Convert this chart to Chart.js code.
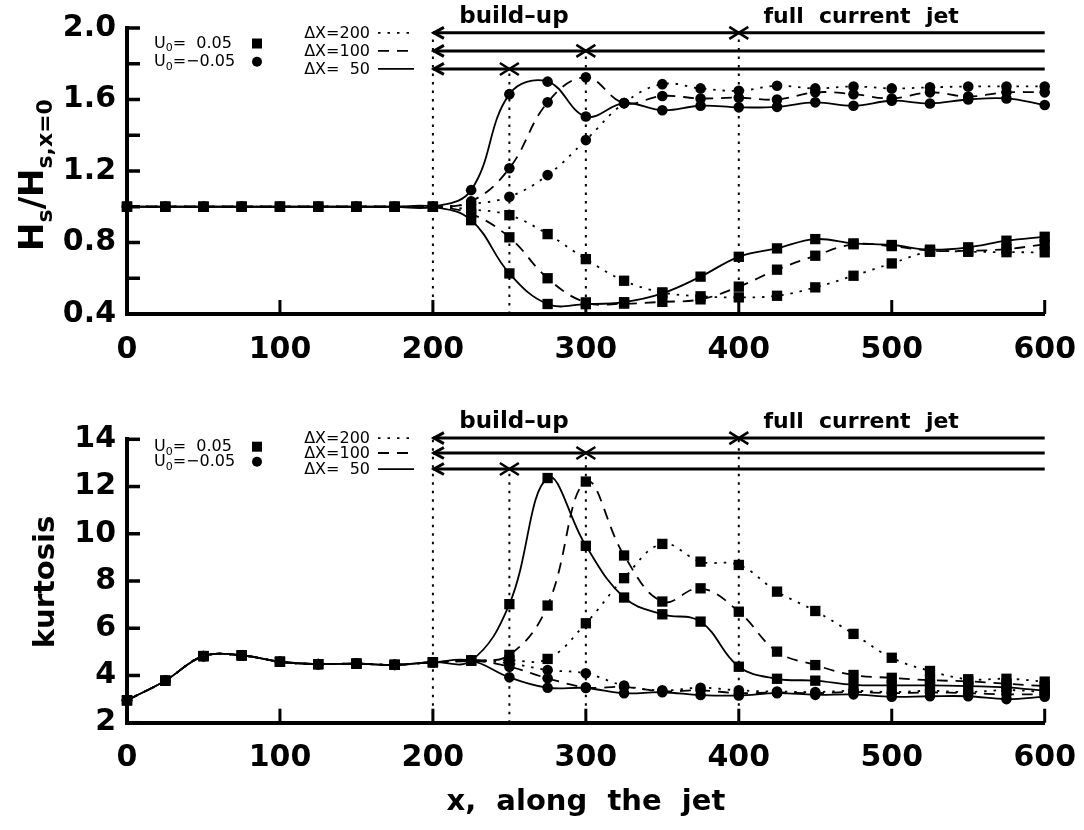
<!DOCTYPE html>
<html><head><meta charset="utf-8">
<script src="https://cdn.jsdelivr.net/npm/chart.js@4.4.0/dist/chart.umd.min.js"></script>
<style>
html,body{margin:0;padding:0;background:#fff;}
#wrap{position:relative;width:1084px;height:830px;overflow:hidden;background:#fff;}
.box{position:absolute;left:0;width:1084px;}
</style></head><body>
<div id="wrap">
<div class="box" style="top:0;height:400px"><canvas id="c1"></canvas></div>
<div class="box" style="top:400px;height:430px"><canvas id="c2"></canvas></div>
</div>
<script>
// ---------------- DATA ----------------
const xAlongJet = [0,25,50,75,100,125,150,175,200,225,250,275,300,325,350,375,400,425,450,475,500,525,550,575,600];

// Panel 1: Hs / Hs,x=0   (squares: U0=0.05, circles: U0=-0.05)
const hsSquare50  = [1.00,1.00,1.00,1.00,1.00,1.00,1.00,1.00,1.00,0.925,0.627,0.456,0.455,0.466,0.515,0.609,0.720,0.767,0.819,0.795,0.786,0.760,0.773,0.810,0.832];
const hsSquare100 = [1.00,1.00,1.00,1.00,1.00,1.00,1.00,1.00,1.00,0.960,0.829,0.600,0.465,0.458,0.468,0.482,0.553,0.648,0.726,0.790,0.780,0.754,0.754,0.763,0.790];
const hsSquare200 = [1.00,1.00,1.00,1.00,1.00,1.00,1.00,1.00,1.00,0.985,0.953,0.847,0.707,0.586,0.521,0.499,0.493,0.502,0.549,0.614,0.683,0.748,0.748,0.746,0.745];
const hsCircle50  = [1.00,1.00,1.00,1.00,1.00,1.00,1.00,1.00,1.00,1.093,1.630,1.700,1.505,1.580,1.540,1.565,1.556,1.559,1.584,1.565,1.593,1.578,1.600,1.606,1.569];
const hsCircle100 = [1.00,1.00,1.00,1.00,1.00,1.00,1.00,1.00,1.00,1.030,1.215,1.584,1.724,1.580,1.620,1.606,1.610,1.600,1.640,1.630,1.606,1.640,1.617,1.640,1.640];
const hsCircle200 = [1.00,1.00,1.00,1.00,1.00,1.00,1.00,1.00,1.00,1.015,1.056,1.177,1.373,1.580,1.686,1.662,1.649,1.677,1.662,1.673,1.662,1.668,1.673,1.673,1.673];

// Panel 2: kurtosis
const kuSquare50  = [2.95,3.78,4.82,4.85,4.58,4.48,4.50,4.45,4.56,4.63,7.02,12.36,9.49,7.30,6.59,6.28,4.37,3.86,3.78,3.60,3.58,3.58,3.55,3.50,3.35];
const kuSquare100 = [2.95,3.78,4.82,4.85,4.58,4.48,4.50,4.45,4.56,4.63,4.87,6.96,12.21,9.08,7.13,7.69,6.70,5.01,4.44,4.02,3.90,3.80,3.75,3.65,3.55];
const kuSquare200 = [2.95,3.78,4.82,4.85,4.58,4.48,4.50,4.45,4.56,4.63,4.64,4.70,6.21,8.12,9.57,8.82,8.68,7.55,6.73,5.76,4.75,4.19,3.84,3.86,3.74];
const kuCircle50  = [2.95,3.78,4.82,4.85,4.58,4.48,4.50,4.45,4.56,4.63,3.92,3.48,3.47,3.25,3.29,3.17,3.15,3.25,3.18,3.20,3.10,3.12,3.12,3.00,3.10];
const kuCircle100 = [2.95,3.78,4.82,4.85,4.58,4.48,4.50,4.45,4.56,4.63,4.37,3.88,3.50,3.51,3.33,3.37,3.25,3.28,3.25,3.30,3.25,3.28,3.25,3.20,3.20];
const kuCircle200 = [2.95,3.78,4.82,4.85,4.58,4.48,4.50,4.45,4.56,4.63,4.51,4.23,4.09,3.57,3.37,3.48,3.37,3.32,3.30,3.35,3.30,3.35,3.30,3.38,3.30];

// Ticks
const xTicks = [0,100,200,300,400,500,600];
const xTickLabels = ['0','100','200','300','400','500','600'];
const hsYTicks = [0.4,0.6,0.8,1.0,1.2,1.4,1.6,1.8,2.0];
const hsYTickLabels = ['0.4','','0.8','','1.2','','1.6','','2.0'];
const kuYTicks = [2,4,6,8,10,12,14];
const kuYTickLabels = ['2','4','6','8','10','12','14'];

// Phase annotations: [ΔX label, arrow level (top panel), arrow level (bottom panel), end of build-up x]
const phaseLabels = ['\u0394X=200','\u0394X=100','\u0394X=  50'];
const phaseEnds = [400, 300, 250];
const hsArrowLevels = [1.973, 1.872, 1.771];
const kuArrowLevels = [14.05, 13.42, 12.74];
const buildStart = 200, jetEnd = 600;

// ---------------- STYLES ----------------
const FONT = 'DejaVu Sans';
const dashes = {50: [], 100: [11, 8], 200: [2.5, 7]};

function ds(vals, style, shape) {
  return {
    data: xAlongJet.map((x, i) => ({x, y: vals[i]})),
    borderColor: '#000', borderWidth: 1.8, borderDash: dashes[style],
    pointStyle: shape, pointRadius: shape === 'rect' ? 7.3 : 5.3,
    pointBackgroundColor: '#000', pointBorderColor: '#000', pointBorderWidth: 0,
    tension: 0.4, fill: false, clip: false
  };
}

function drawParts(ctx, x, y, parts, base, sub, shift, align) {
  let total = 0;
  parts.forEach(p => { ctx.font = p[1] ? sub : base; total += ctx.measureText(p[0]).width; });
  let xx = align === 'center' ? x - total / 2 : x;
  ctx.textAlign = 'left';
  parts.forEach(p => { ctx.font = p[1] ? sub : base; ctx.fillText(p[0], xx, y + (p[1] ? shift : 0)); xx += ctx.measureText(p[0]).width; });
}

function makeChart(id, P) {
  const annot = {
    id: 'annot',
    beforeDatasetsDraw(chart) {
      const {ctx, chartArea: a, scales: {x, y}} = chart;
      ctx.save();
      ctx.strokeStyle = '#000'; ctx.lineWidth = 2; ctx.setLineDash([2.5, 6]);
      const vl = [[buildStart, P.levels[0]]].concat(phaseEnds.map((e, i) => [e, P.levels[i]]));
      vl.forEach(([xv, lv]) => {
        const px = x.getPixelForValue(xv);
        ctx.beginPath(); ctx.moveTo(px, a.bottom); ctx.lineTo(px, y.getPixelForValue(lv)); ctx.stroke();
      });
      ctx.restore();
    },
    afterDatasetsDraw(chart) {
      const {ctx, chartArea: a, scales: {x, y}} = chart;
      ctx.save();
      ctx.strokeStyle = '#000'; ctx.fillStyle = '#000'; ctx.setLineDash([]);
      // inward ticks
      ctx.lineWidth = 3.5;
      P.yTicks.forEach(v => { const py = y.getPixelForValue(v); ctx.beginPath(); ctx.moveTo(a.left, py); ctx.lineTo(a.left + 13, py); ctx.stroke(); });
      ctx.lineWidth = 3;
      xTicks.forEach(v => { const px = x.getPixelForValue(v); ctx.beginPath(); ctx.moveTo(px, a.bottom); ctx.lineTo(px, a.bottom - 14); ctx.stroke(); });
      // phase arrows
      const x0 = x.getPixelForValue(buildStart), x1 = x.getPixelForValue(jetEnd);
      P.levels.forEach((lv, i) => {
        const py = y.getPixelForValue(lv);
        ctx.lineWidth = 3;
        ctx.beginPath(); ctx.moveTo(x0, py); ctx.lineTo(x1, py); ctx.stroke();
        ctx.beginPath(); ctx.moveTo(x0 + 11, py - 5.5); ctx.lineTo(x0 + 1, py); ctx.lineTo(x0 + 11, py + 5.5); ctx.stroke();
        const cx = x.getPixelForValue(phaseEnds[i]);
        ctx.lineWidth = 2.5;
        ctx.beginPath(); ctx.moveTo(cx - 9.5, py - 6); ctx.lineTo(cx + 9.5, py + 6);
        ctx.moveTo(cx - 9.5, py + 6); ctx.lineTo(cx + 9.5, py - 6); ctx.stroke();
        // legend for ΔX
        ctx.font = '16px ' + FONT; ctx.textAlign = 'right'; ctx.textBaseline = 'middle';
        ctx.fillText(phaseLabels[i], 370, py + 1);
        ctx.lineWidth = 1.8;
        ctx.setLineDash(dashes[[200, 100, 50][i]]);
        ctx.beginPath(); ctx.moveTo(378, py); ctx.lineTo(414, py); ctx.stroke();
        ctx.setLineDash([]);
      });
      // phase texts
      const tTop = y.getPixelForValue(P.levels[0]) - 16;
      ctx.font = 'bold 23px ' + FONT; ctx.textAlign = 'center'; ctx.textBaseline = 'middle';
      ctx.fillText('build\u2013up', x.getPixelForValue(253), tTop);
      ctx.font = 'bold 22px ' + FONT;
      ctx.fillText('full  current  jet', x.getPixelForValue(480), tTop);
      // U0 legend
      ctx.textBaseline = 'middle';
      drawParts(ctx, 154, P.u0y[0], [['U', 0], ['0', 1], ['=  0.05', 0]], '16px ' + FONT, '11px ' + FONT, 5, 'left');
      drawParts(ctx, 154, P.u0y[1], [['U', 0], ['0', 1], ['=\u22120.05', 0]], '16px ' + FONT, '11px ' + FONT, 5, 'left');
      ctx.fillRect(252, P.u0y[0] - 5, 10, 10);
      ctx.beginPath(); ctx.arc(257, P.u0y[1], 5, 0, Math.PI * 2); ctx.fill();
      // axis titles
      ctx.textBaseline = 'alphabetic';
      ctx.save();
      ctx.translate(P.yTitleX, P.yTitleY); ctx.rotate(-Math.PI / 2);
      drawParts(ctx, 0, 0, P.yTitle, 'bold ' + P.yTitleSize + 'px ' + FONT, 'bold 22px ' + FONT, 9, 'center');
      ctx.restore();
      if (P.xTitle) {
        ctx.font = 'bold 29px ' + FONT; ctx.textAlign = 'center';
        ctx.fillText(P.xTitle, x.getPixelForValue(300), P.xTitleY);
      }
      ctx.restore();
    }
  };
  const datasets = [
    ds(P.data[0], 50, 'rect'), ds(P.data[1], 100, 'rect'), ds(P.data[2], 200, 'rect'),
    ds(P.data[3], 50, 'circle'), ds(P.data[4], 100, 'circle'), ds(P.data[5], 200, 'circle')
  ];
  return new Chart(document.getElementById(id), {
    type: 'line',
    data: {datasets},
    plugins: [annot],
    options: {
      responsive: true, maintainAspectRatio: false, animation: false,
      layout: {padding: {left: 0, right: 39.3, top: P.padTop, bottom: 0}},
      plugins: {legend: {display: false}, tooltip: {enabled: false}},
      scales: {
        x: {
          type: 'linear', min: 0, max: 600, position: 'bottom',
          afterBuildTicks: s => { s.ticks = xTicks.map(v => ({value: v})); },
          afterFit: s => { s.height = P.xHeight; s.paddingLeft = 0; s.paddingRight = 0; },
          grid: {display: false, drawTicks: false},
          border: {display: true, color: '#000', width: 4},
          ticks: {color: '#000', font: {family: FONT, size: 30, weight: 'bold'}, padding: 18,
                  maxRotation: 0, autoSkip: false, callback: (v, i) => xTickLabels[i]}
        },
        y: {
          type: 'linear', min: P.yMin, max: P.yMax, position: 'left',
          afterBuildTicks: s => { s.ticks = P.yTicks.map(v => ({value: v})); },
          afterFit: s => { s.width = 127; s.paddingTop = 0; s.paddingBottom = 0; },
          grid: {display: false, drawTicks: false},
          border: {display: true, color: '#000', width: 4},
          ticks: {color: '#000', font: {family: FONT, size: 30, weight: 'bold'}, padding: 11,
                  autoSkip: false, callback: (v, i) => P.yTickLabels[i]}
        }
      }
    }
  });
}

makeChart('c1', {
  data: [hsSquare50, hsSquare100, hsSquare200, hsCircle50, hsCircle100, hsCircle200],
  yMin: 0.4, yMax: 2.0, yTicks: hsYTicks, yTickLabels: hsYTickLabels,
  levels: hsArrowLevels, padTop: 28, xHeight: 86, u0y: [43.5, 61.7],
  yTitle: [['H', 0], ['s', 1], ['/H', 0], ['s,x=0', 1]], yTitleSize: 34, yTitleX: 43, yTitleY: 175
});
makeChart('c2', {
  data: [kuSquare50, kuSquare100, kuSquare200, kuCircle50, kuCircle100, kuCircle200],
  yMin: 2, yMax: 14, yTicks: kuYTicks, yTickLabels: kuYTickLabels,
  levels: kuArrowLevels, padTop: 39.3, xHeight: 107.3, u0y: [46.7, 61.7],
  yTitle: [['kurtosis', 0]], yTitleSize: 29, yTitleX: 54, yTitleY: 182,
  xTitle: 'x,  along  the  jet', xTitleY: 410
});
</script>
</body></html>
